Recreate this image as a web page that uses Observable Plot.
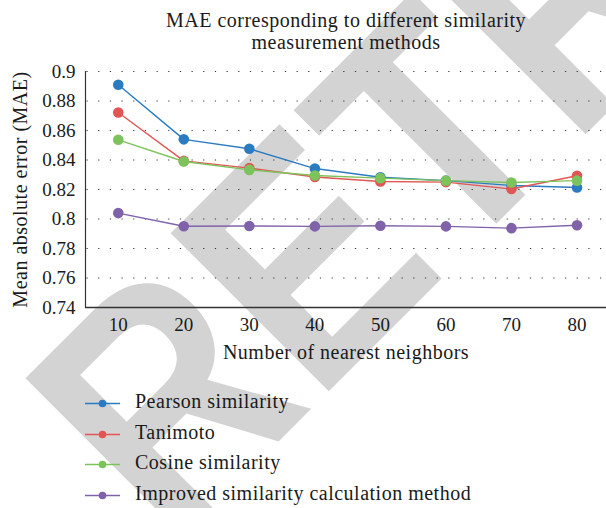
<!DOCTYPE html>
<html><head><meta charset="utf-8">
<script src="https://cdn.jsdelivr.net/npm/d3@7"></script>
<script src="https://cdn.jsdelivr.net/npm/@observablehq/plot@0.6"></script>
<style>
html,body{margin:0;padding:0;background:#fff;}
#wrap{position:relative;width:606px;height:508px;overflow:hidden;font-family:"Liberation Serif","Tinos","Times New Roman","DejaVu Serif","Noto Serif",serif;color:#1a1a1a;}
#wm{position:absolute;left:0;top:0;}
#chart{position:absolute;left:0;top:0;}
#title{position:absolute;left:96px;width:500px;top:9px;text-align:center;font-size:20px;line-height:22px;letter-spacing:0.5px;}
.leg{position:absolute;left:0;width:606px;height:31px;}
.leg svg{position:absolute;left:85px;top:0;}
.leg span{position:absolute;left:135px;top:0;font-size:20px;line-height:31px;white-space:nowrap;letter-spacing:0.5px;}
</style></head>
<body><div id="wrap"><svg id="wm" width="606" height="508"></svg><div id="chart"></div><div id="title">MAE corresponding to different similarity<br>measurement methods</div><div id="legend"></div></div>
<script>
const neighbors = [10, 20, 30, 40, 50, 60, 70, 80];
const seriesNames = ["Pearson similarity", "Tanimoto", "Cosine similarity", "Improved similarity calculation method"];
const seriesColors = ["#2b7bc0", "#e15554", "#7dc35b", "#8062aa"];
const pearson  = [0.891, 0.854, 0.8476, 0.8342, 0.8283, 0.826, 0.8227, 0.8214];
const tanimoto = [0.8722, 0.8394, 0.8345, 0.8285, 0.8254, 0.825, 0.8203, 0.8293];
const cosine   = [0.8537, 0.839, 0.8333, 0.8295, 0.8277, 0.826, 0.8247, 0.826];
const improved = [0.804, 0.7951, 0.7953, 0.795, 0.7954, 0.795, 0.7938, 0.7958];
const seriesValues = [pearson, tanimoto, cosine, improved];
const xTicks = [10, 20, 30, 40, 50, 60, 70, 80];
const xTickLabels = ["10", "20", "30", "40", "50", "60", "70", "80"];
const yTicks = [0.74, 0.76, 0.78, 0.8, 0.82, 0.84, 0.86, 0.88, 0.9];
const yTickLabels = ["0.74", "0.76", "0.78", "0.8", "0.82", "0.84", "0.86", "0.88", "0.9"];
const gridTicks = [0.76, 0.78, 0.8, 0.82, 0.84, 0.86, 0.88, 0.9];
const xLabel = "Number of nearest neighbors";
const yLabel = "Mean absolute error (MAE)";
const watermark = "RETRACTED";
const serif = "'Liberation Serif', 'Tinos', 'Times New Roman', 'DejaVu Serif', 'Noto Serif', serif";

// watermark stamp (behind the chart)
d3.select("#wm").append("text")
  .attr("transform", "translate(170.1,549.9) rotate(-45) scale(0.875,1)")
  .attr("font-family", "'Liberation Sans', Arimo, Arial, sans-serif")
  .attr("font-weight", "bold")
  .attr("font-size", 325)
  .attr("fill", "#d3d3d3")
  .text(watermark);

const data = seriesNames.flatMap((name, i) => neighbors.map((n, j) => ({name, n, v: seriesValues[i][j]})));

const chart = Plot.plot({
  width: 606, height: 508,
  marginTop: 71, marginBottom: 201, marginLeft: 85, marginRight: 0,
  style: {background: "transparent", fontFamily: serif, fontSize: "19px", color: "#1a1a1a", overflow: "visible"},
  x: {domain: [5, 84.5]},
  y: {domain: [0.74, 0.9]},
  color: {domain: seriesNames, range: seriesColors},
  marks: [
    Plot.ruleY(gridTicks, {stroke: "#333", strokeWidth: 1, strokeDasharray: "1.2,10.47", strokeDashoffset: -1.5}),
    Plot.ruleX([5], {y1: 0.74, y2: 0.9, stroke: "#333", strokeWidth: 1.2}),
    Plot.ruleY([0.74], {stroke: "#333", strokeWidth: 1.3}),
    Plot.axisX({ticks: xTicks, tickFormat: d => xTickLabels[xTicks.indexOf(d)], tickSize: 0, tickPadding: 10, label: null, fontSize: 19}),
    Plot.axisY({ticks: yTicks, tickFormat: d => yTickLabels[yTicks.indexOf(d)], tickSize: 0, tickPadding: 10, label: null, fontSize: 19}),
    Plot.line(data, {x: "n", y: "v", z: "name", stroke: "name", strokeWidth: 1.4}),
    Plot.dot(data, {x: "n", y: "v", fill: "name", r: 5.3}),
    Plot.text([xLabel], {frameAnchor: "bottom", textAnchor: "middle", dy: 51, fontSize: 20, style: "letter-spacing:0.5px"}),
    Plot.text([yLabel], {frameAnchor: "left", textAnchor: "middle", dx: -65, rotate: -90, fontSize: 20})
  ]
});
document.getElementById("chart").appendChild(chart);
d3.select(chart).selectAll("text").filter(function() { return this.textContent === xLabel || this.textContent === yLabel; })
  .style("letter-spacing", "0.5px");

const legend = d3.select("#legend");
seriesNames.forEach((name, i) => {
  const row = legend.append("div").attr("class", "leg").style("top", (385.85 + i * 30.8) + "px");
  const s = row.append("svg").attr("width", 36).attr("height", 31);
  s.append("line").attr("x1", 0).attr("x2", 35).attr("y1", 17.45).attr("y2", 17.45)
    .attr("stroke", seriesColors[i]).attr("stroke-width", 1.5);
  s.append("circle").attr("cx", 17.5).attr("cy", 17.45).attr("r", 3.8).attr("fill", seriesColors[i]);
  row.append("span").text(name);
});
</script>
</body></html>
